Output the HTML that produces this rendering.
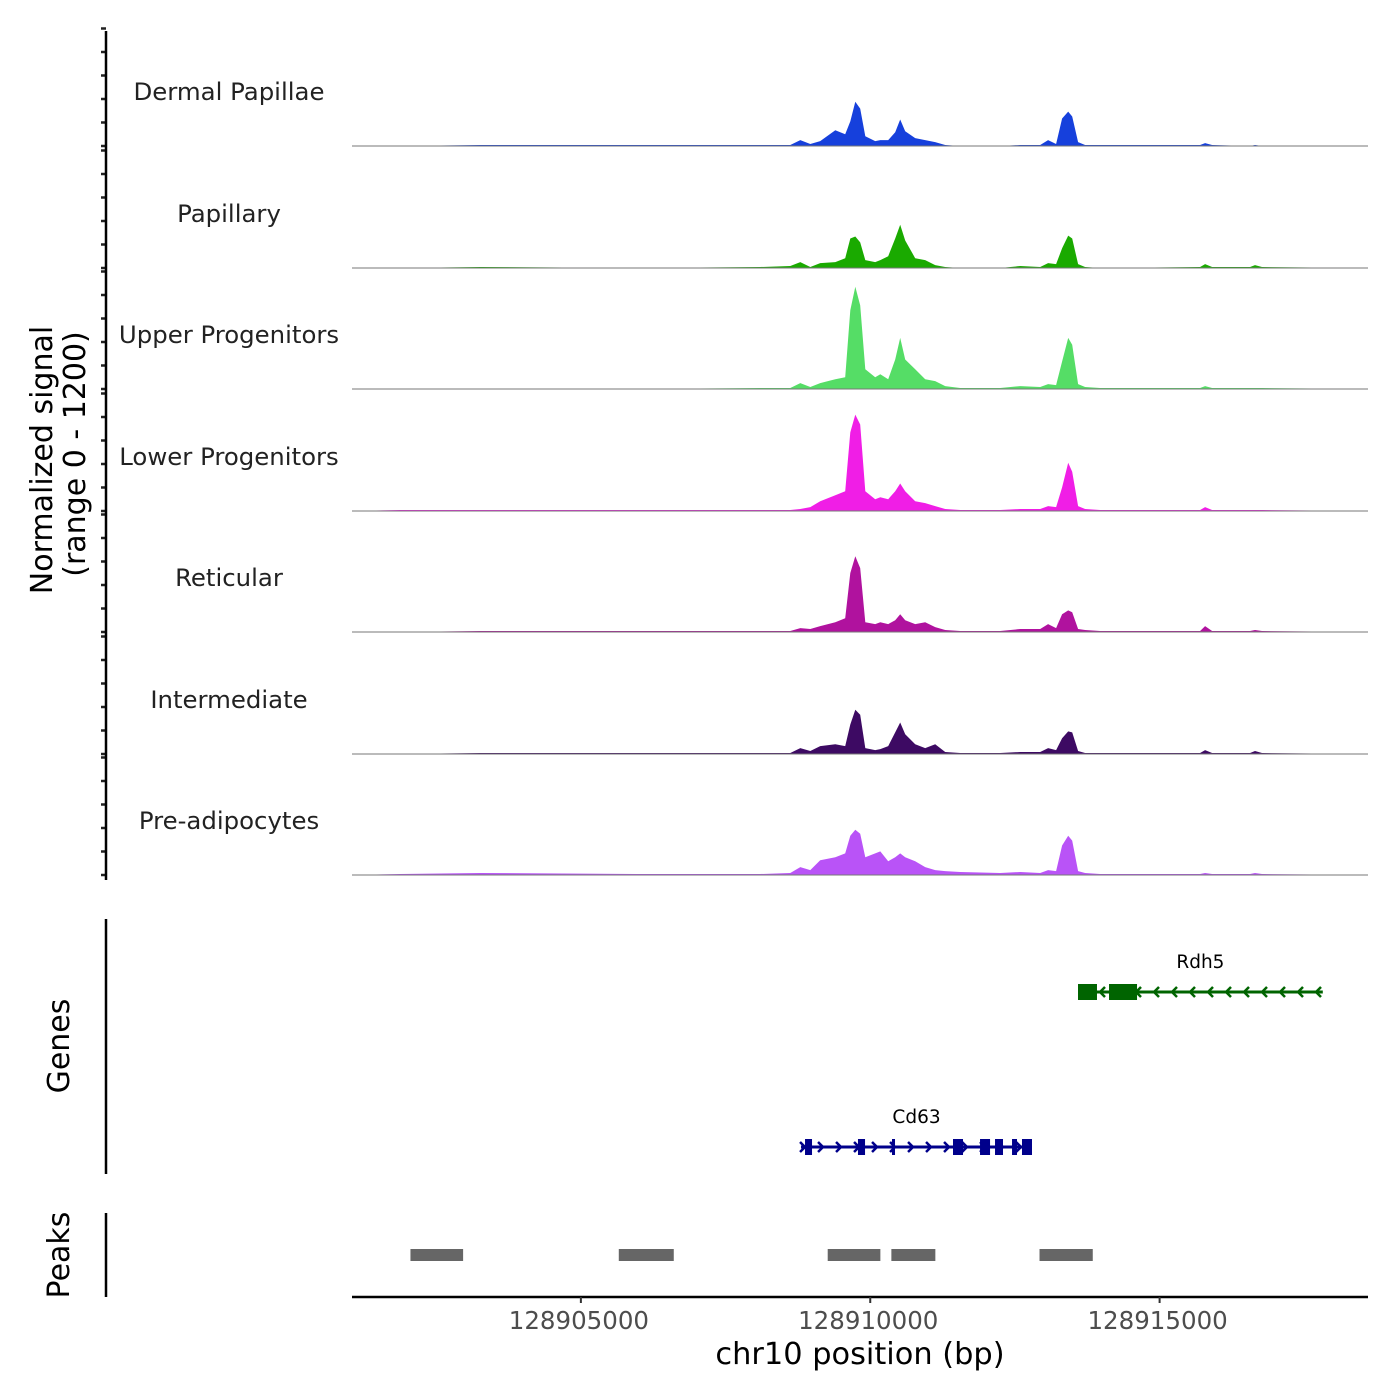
<!DOCTYPE html>
<html><head><meta charset="utf-8">
<style>
html,body{margin:0;padding:0;background:#fff;}
svg{display:block;font-family:"DejaVu Sans","Liberation Sans",sans-serif;}
</style></head>
<body>
<svg id="chart" width="1400" height="1400" viewBox="0 0 1400 1400"></svg>
<script>
// ---- data ----
const trackNames = ["Dermal Papillae","Papillary","Upper Progenitors","Lower Progenitors","Reticular","Intermediate","Pre-adipocytes"];
const trackColors = ["#1640dc","#1aaa00","#55dd66","#f01ee6","#b0129e","#3d0a63","#b953f7"];
const positionsKb = [128901.053,128901.883,128903.264,128906.028,128908.100,128908.618,128908.791,128908.964,128909.136,128909.396,128909.568,128909.655,128909.741,128909.827,128909.914,128910.086,128910.173,128910.311,128910.432,128910.518,128910.604,128910.777,128910.950,128911.123,128911.295,128911.554,128912.245,128912.591,128912.936,128913.074,128913.212,128913.316,128913.420,128913.489,128913.592,128913.713,128913.972,128915.699,128915.786,128915.907,128916.563,128916.649,128916.770,128918.601];
const sigDermalPapillae = [0,0,10,10,10,10,60,20,50,160,120,250,450,380,100,50,60,60,140,270,150,80,60,40,10,0,0,10,10,60,20,280,350,300,40,10,10,10,30,10,0,10,0,0];
const sigPapillary = [0,0,10,0,10,20,60,10,50,60,100,300,320,260,80,60,80,120,300,440,280,100,80,30,10,0,0,20,10,50,40,200,330,300,40,10,0,10,40,10,10,30,10,0];
const sigUpper = [0,0,0,0,10,10,60,20,60,100,120,800,1040,850,200,120,150,100,300,520,300,200,100,80,30,10,10,30,20,50,40,280,520,450,50,20,10,10,30,10,10,10,10,0];
const sigLower = [0,10,10,10,10,10,20,40,100,160,200,800,980,880,200,120,140,120,200,280,200,100,80,50,20,10,10,20,20,50,40,240,490,400,50,20,10,10,40,10,10,10,10,0];
const sigReticular = [0,0,10,10,10,10,40,30,60,100,140,600,770,650,100,80,100,80,120,180,120,80,100,50,20,10,10,30,30,80,40,180,220,200,30,20,10,10,60,10,10,20,10,0];
const sigIntermediate = [0,0,10,10,10,10,60,30,80,100,80,300,450,400,60,40,50,80,220,320,200,100,60,100,20,10,10,20,20,60,40,160,230,220,30,10,10,10,40,10,10,30,10,0];
const sigPreadip = [0,10,20,10,10,20,80,50,150,180,220,400,460,420,180,220,240,140,180,220,180,140,80,50,40,30,20,30,20,50,40,300,400,350,40,20,10,10,20,10,10,20,10,0];
const signals = [sigDermalPapillae,sigPapillary,sigUpper,sigLower,sigReticular,sigIntermediate,sigPreadip];
const xTicks = [128905000,128910000,128915000];
const peakStarts = [128902055,128905655,128909265,128910365,128912925];
const peakEnds   = [128902965,128906605,128910175,128911125,128913845];
const geneNames = ["Rdh5","Cd63"];
const geneStrand = [-1,1];
const geneStart = [128913590,128908804];
const geneEnd   = [128917820,128912795];
const rdh5ExonS = [128913590,128914126];
const rdh5ExonE = [128913918,128914610];
const cd63ExonS = [128908873,128909788,128910376,128911430,128911897,128912156,128912450,128912622];
const cd63ExonE = [128908994,128909910,128910428,128911603,128912070,128912294,128912536,128912795];

// ---- scales ----
const X0=352, X1=1368, BP0=128901045, BP1=128918601;
const xs = bp => X0 + (bp-BP0)/(BP1-BP0)*(X1-X0);
const baselines = [146,268,389,511,632,754,875];
const TRACK_H = 118;
const ys = (v,i) => baselines[i] - v/1200*TRACK_H;

const NS="http://www.w3.org/2000/svg";
const svg=document.getElementById('chart');
function mk(tag,attrs,parent){const e=document.createElementNS(NS,tag);for(const k in attrs)e.setAttribute(k,attrs[k]);(parent||svg).appendChild(e);return e;}
function txt(s,attrs){const e=mk('text',attrs);e.textContent=s;return e;}

// tracks
signals.forEach((vals,i)=>{
  let d=`M${xs(positionsKb[0]*1000)},${baselines[i]}`;
  vals.forEach((v,j)=>{d+=` L${xs(positionsKb[j]*1000).toFixed(1)},${ys(v,i).toFixed(1)}`;});
  d+=` L${xs(positionsKb[positionsKb.length-1]*1000)},${baselines[i]} Z`;
  const a=mk('path',{d:d,fill:trackColors[i]});
  
  
  const bl=mk('line',{x1:X0,x2:X1,y1:baselines[i],y2:baselines[i],stroke:'#777','stroke-width':1});
  
  
  const t=txt(trackNames[i],{x:229,y:baselines[i]-46,'text-anchor':'middle','font-size':24.4,fill:'#222'});
  
  
  for(let k=0;k<=5;k++){
    const yy=baselines[i]-k*23.5;
    const tk=mk('line',{x1:101,x2:106,y1:yy,y2:yy,stroke:'#222','stroke-width':2.5});
    
    
  }
});
// left axis lines
[[31,880],[919,1174],[1213,1297]].forEach(([a,b])=>{
  const l=mk('line',{x1:106,x2:106,y1:a,y2:b,stroke:'#000','stroke-width':2.5});
  
  
});
let t;
t=txt('Normalized signal',{x:0,y:0,transform:'translate(52,460) rotate(-90)','text-anchor':'middle','font-size':30,fill:'#000'});


t=txt('(range 0 - 1200)',{x:0,y:0,transform:'translate(85,454) rotate(-90)','text-anchor':'middle','font-size':30,fill:'#000'});


t=txt('Genes',{x:0,y:0,transform:'translate(69,1046) rotate(-90)','text-anchor':'middle','font-size':30,fill:'#000'});


t=txt('Peaks',{x:0,y:0,transform:'translate(69,1255) rotate(-90)','text-anchor':'middle','font-size':30,fill:'#000'});



// genes
const geneY=[992,1147], geneCol=['#006400','#00008b'];
const exS=[rdh5ExonS,cd63ExonS], exE=[rdh5ExonE,cd63ExonE];
geneNames.forEach((g,i)=>{
  const y=geneY[i], c=geneCol[i];
  const gl=mk('line',{x1:xs(geneStart[i]),x2:xs(geneEnd[i]),y1:y,y2:y,stroke:c,'stroke-width':3});
  
  
  const n=Math.floor((xs(geneEnd[i])-xs(geneStart[i]))/18);
  for(let k=0;k<=n;k++){
    const xx=xs(geneStart[i])+k*18+4, s=geneStrand[i]*5;
    const ar=mk('polyline',{points:`${xx-s},${y-5} ${xx},${y} ${xx-s},${y+5}`,fill:'none',stroke:c,'stroke-width':2.5});
    
    
  }
  exS[i].forEach((s,k)=>{
    const r=mk('rect',{x:xs(s),y:y-8,width:Math.max(3,xs(exE[i][k])-xs(s)),height:16,fill:c});
    
    
  });
  const lb=txt(g,{x:(xs(geneStart[i])+xs(geneEnd[i]))/2,y:y-24,'text-anchor':'middle','font-size':18.5,fill:'#000'});
  
  
});

// peaks
peakStarts.forEach((s,i)=>{
  const r=mk('rect',{x:xs(s),y:1249,width:xs(peakEnds[i])-xs(s),height:12,fill:'#666'});
  
  
});

// x axis
const xl=mk('line',{x1:X0,x2:X1,y1:1297,y2:1297,stroke:'#000','stroke-width':2.5});


xTicks.forEach(v=>{
  const tk=mk('line',{x1:xs(v),x2:xs(v),y1:1297,y2:1303,stroke:'#333','stroke-width':2});
  
  
  const lb=txt(String(v),{x:xs(v)-2,y:1329,'text-anchor':'middle','font-size':24.5,fill:'#4d4d4d'});
  
  
});
t=txt('chr10 position (bp)',{x:860,y:1364,'text-anchor':'middle','font-size':30.4,fill:'#000'});


</script>
</body></html>
